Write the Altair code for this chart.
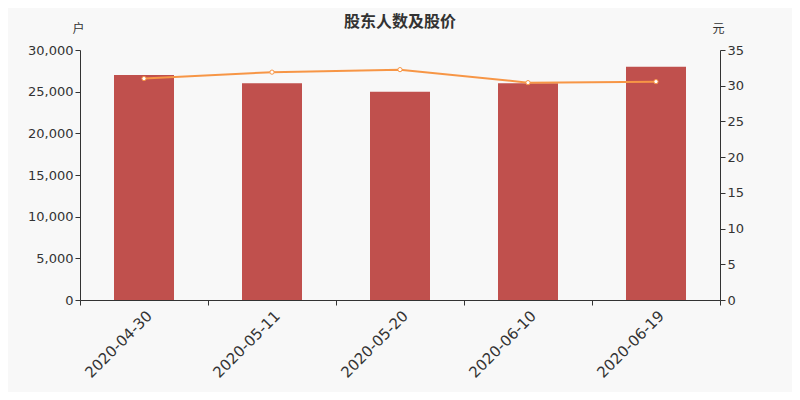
import altair as alt
import pandas as pd

dates = ["2020-04-30", "2020-05-11", "2020-05-20", "2020-06-10", "2020-06-19"]
holders = [27000, 26000, 25000, 26000, 28000]
prices = [31.0, 31.9, 32.25, 30.43, 30.57]

df = pd.DataFrame({"date": dates, "holders": holders, "price": prices})
CJK = "Noto Sans CJK SC"
NUM = "DejaVu Sans"

x = alt.X("date:N", sort=dates, title=None,
          scale=alt.Scale(paddingInner=0, paddingOuter=0),
          axis=alt.Axis(labelAngle=-45, labelFontSize=15, labelColor="#333",
                        domainColor="#333", tickColor="#333", tickBand="extent",
                        tickSize=5, labelPadding=3, labelFont=NUM))

def yaxis(title, orient, values, fmt):
    return alt.Axis(title=title, orient=orient, titleAngle=0, titleX=-2, titleY=-22,
                    titleAlign="center", titleBaseline="middle",
                    titleFontSize=12, titleFontWeight="normal", titleColor="#333",
                    labelFontSize=13, labelColor="#333", format=fmt, values=values,
                    domainColor="#333", tickColor="#333", tickSize=5, grid=False,
                    labelFont=NUM, titleFont=CJK)

bars = alt.Chart(df).mark_bar(width=60, color="#c0504d").encode(
    x=x,
    y=alt.Y("holders:Q", scale=alt.Scale(domain=[0, 30000]),
            axis=yaxis("户", "left", [0, 5000, 10000, 15000, 20000, 25000, 30000], ",d")),
)

line = alt.Chart(df).mark_line(
    color="#f79646", strokeWidth=2,
    point=alt.OverlayMarkDef(filled=True, fill="white", stroke="#f79646",
                             strokeWidth=1, size=18, opacity=1),
).encode(
    x=x,
    y=alt.Y("price:Q", scale=alt.Scale(domain=[0, 35]),
            axis=yaxis("元", "right", [0, 5, 10, 15, 20, 25, 30, 35], "d")),
)

chart = alt.layer(bars, line).resolve_scale(y="independent").properties(
    width=640, height=250,
    padding={"left": 72, "top": 42, "right": 72, "bottom": 92},
    autosize=alt.AutoSizeParams(type="none"),
    background="#f8f8f8",
    title=alt.TitleParams("股东人数及股价", font=CJK, fontSize=16, fontWeight="bold",
                          color="#333", anchor="middle", offset=-8),
).configure_view(stroke=None)

chart.save("out.html", embed_options={"renderer": "svg", "actions": False})
